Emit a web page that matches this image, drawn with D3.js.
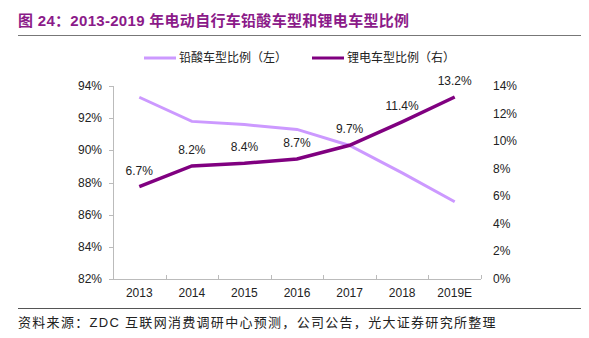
<!doctype html>
<html lang="zh">
  <head>
    <meta charset="utf-8">
    <title>2013-2019 年电动自行车铅酸车型和锂电车型比例</title>
    <style>
      body { margin: 0; background: #fff; }
      svg text { font-family: Arial, "Liberation Sans", "Noto Sans CJK SC", sans-serif; }
    </style>
  </head>
  <body>
    <div id="chart"></div>

    <script src="https://d3js.org/d3.v7.min.js"></script>
    <script>
    // chart data
    var years = ["2013", "2014", "2015", "2016", "2017", "2018", "2019E"];
    var leadAcid = [93.3, 91.8, 91.6, 91.3, 90.3, 88.6, 86.8];   // 左轴
    var lithium = [6.7, 8.2, 8.4, 8.7, 9.7, 11.4, 13.2];         // 右轴
    var leftTicks = [82, 84, 86, 88, 90, 92, 94];
    var rightTicks = [0, 2, 4, 6, 8, 10, 12, 14];
    var seriesNames = ["铅酸车型比例（左）", "锂电车型比例（右）"];

    var width = 589, height = 338;
    var pL = 113, pR = 481, pT = 86, pB = 279;

    var svg = d3.select("#chart")
        .append("svg")
        .attr("width", width)
        .attr("height", height);

    // title + rules
    svg.append("text")
        .attr("x", 18)
        .attr("y", 26)
        .attr("fill", "#8b1a89")
        .attr("font-size", "15px")
        .attr("font-weight", "bold")
        .attr("letter-spacing", "0.3px")
        .text("图 24：2013-2019 年电动自行车铅酸车型和锂电车型比例");

    svg.append("line")
        .attr("x1", 18).attr("x2", 581)
        .attr("y1", 35.5).attr("y2", 35.5)
        .attr("stroke", "#777").attr("stroke-width", 1);

    svg.append("line")
        .attr("x1", 18).attr("x2", 581)
        .attr("y1", 308.5).attr("y2", 308.5)
        .attr("stroke", "#555").attr("stroke-width", 1);

    svg.append("text")
        .attr("x", 18)
        .attr("y", 327)
        .attr("fill", "#222")
        .attr("font-size", "13px")
        .attr("letter-spacing", "1.3px")
        .text("资料来源：ZDC 互联网消费调研中心预测，公司公告，光大证券研究所整理");

    // scales
    var x = d3.scaleBand().domain(years).range([pL, pR]);
    var yL = d3.scaleLinear().domain([82, 94]).range([pB, pT]);
    var yR = d3.scaleLinear().domain([0, 14]).range([pB, pT]);
    var cx = function(d) { return x(d) + x.bandwidth() / 2; };

    // left axis
    var gl = svg.append("g").attr("transform", "translate(" + pL + ",0)");
    gl.append("line").attr("x1", 0.5).attr("x2", 0.5).attr("y1", pT).attr("y2", pB)
        .attr("stroke", "#bbb");
    gl.selectAll("line.tick").data(leftTicks).enter().append("line")
        .attr("class", "tick")
        .attr("x1", -4).attr("x2", 0.5)
        .attr("y1", function(d) { return Math.round(yL(d)) + 0.5; })
        .attr("y2", function(d) { return Math.round(yL(d)) + 0.5; })
        .attr("stroke", "#bbb");
    gl.selectAll("text").data(leftTicks).enter().append("text")
        .attr("x", -11)
        .attr("y", function(d) { return yL(d) + 4; })
        .attr("text-anchor", "end")
        .attr("font-size", "12px")
        .attr("fill", "#222")
        .text(function(d) { return d + "%"; });

    // right labels
    svg.selectAll("text.rt").data(rightTicks).enter().append("text")
        .attr("class", "rt")
        .attr("x", 493)
        .attr("y", function(d) { return yR(d) + 4; })
        .attr("font-size", "12px")
        .attr("fill", "#222")
        .text(function(d) { return d + "%"; });

    // x axis
    svg.append("line")
        .attr("x1", pL).attr("x2", pR)
        .attr("y1", pB + 0.5).attr("y2", pB + 0.5)
        .attr("stroke", "#bbb");
    svg.selectAll("line.xt").data(years.concat(["end"])).enter().append("line")
        .attr("class", "xt")
        .attr("x1", function(d, i) { return Math.round(pL + i * x.bandwidth()) + 0.5; })
        .attr("x2", function(d, i) { return Math.round(pL + i * x.bandwidth()) + 0.5; })
        .attr("y1", pB - 4).attr("y2", pB)
        .attr("stroke", "#bbb");
    svg.selectAll("text.xl").data(years).enter().append("text")
        .attr("class", "xl")
        .attr("x", cx)
        .attr("y", pB + 18)
        .attr("text-anchor", "middle")
        .attr("font-size", "12px")
        .attr("fill", "#222")
        .text(function(d) { return d; });

    // lines
    var lineL = d3.line()
        .x(function(d, i) { return cx(years[i]); })
        .y(function(d) { return yL(d); });
    var lineR = d3.line()
        .x(function(d, i) { return cx(years[i]); })
        .y(function(d) { return yR(d); });

    svg.append("path")
        .datum(leadAcid)
        .attr("d", lineL)
        .attr("fill", "none")
        .attr("stroke", "#cc99ff")
        .attr("stroke-width", 3);

    svg.append("path")
        .datum(lithium)
        .attr("d", lineR)
        .attr("fill", "none")
        .attr("stroke", "#800080")
        .attr("stroke-width", 3.5);

    // data labels
    svg.selectAll("text.dl").data(lithium).enter().append("text")
        .attr("class", "dl")
        .attr("x", function(d, i) { return cx(years[i]); })
        .attr("y", function(d) { return yR(d) - 12; })
        .attr("text-anchor", "middle")
        .attr("font-size", "12px")
        .attr("fill", "#222")
        .text(function(d) { return d.toFixed(1) + "%"; });

    // legend
    var legend = svg.append("g");
    var legendColors = ["#cc99ff", "#800080"];
    var legendX = [144, 312];
    legend.selectAll("line").data(seriesNames).enter().append("line")
        .attr("x1", function(d, i) { return legendX[i]; })
        .attr("x2", function(d, i) { return legendX[i] + 32; })
        .attr("y1", 58).attr("y2", 58)
        .attr("stroke", function(d, i) { return legendColors[i]; })
        .attr("stroke-width", 3);
    legend.selectAll("text").data(seriesNames).enter().append("text")
        .attr("x", function(d, i) { return legendX[i] + 35; })
        .attr("y", 62)
        .attr("font-size", "12px")
        .attr("fill", "#222")
        .text(function(d) { return d; });
    </script>
  </body>
</html>
